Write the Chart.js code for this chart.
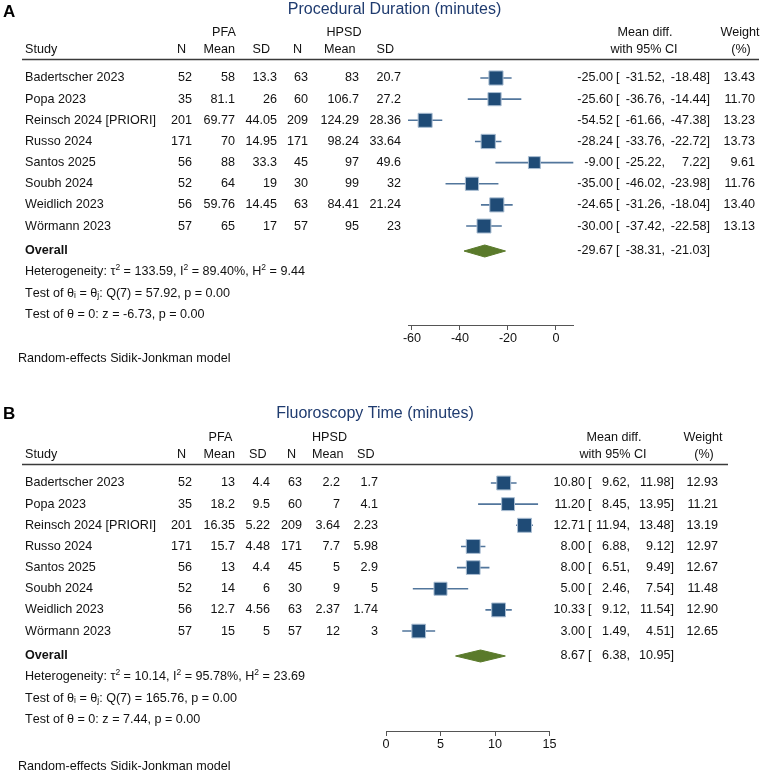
<!DOCTYPE html>
<html><head><meta charset="utf-8">
<script src="https://cdn.jsdelivr.net/npm/chart.js@4.4.1/dist/chart.umd.min.js"></script>
<style>
html,body{margin:0;padding:0;background:#fff;}
#wrap{position:relative;width:767px;height:771px;overflow:hidden;background:#fff;}
canvas{position:absolute;left:0;}
</style></head><body>
<div id="wrap">
<canvas id="cA" width="767" height="405" style="top:0px"></canvas>
<canvas id="cB" width="767" height="366" style="top:405px"></canvas>
</div>
<script>
// ---------- shared ----------
const studies = ['Badertscher 2023','Popa 2023','Reinsch 2024 [PRIORI]','Russo 2024','Santos 2025','Soubh 2024','Weidlich 2023','Wörmann 2023'];
const modelNote = 'Random-effects Sidik-Jonkman model';

// ---------- Panel A: Procedural Duration ----------
const durTitle = 'Procedural Duration (minutes)';
const durPfaN = [52,35,201,171,56,52,56,57];
const durPfaMean = [58,81.1,69.77,70,88,64,59.76,65];
const durPfaSD = [13.3,26,44.05,14.95,33.3,19,14.45,17];
const durHpsdN = [63,60,209,171,45,30,63,57];
const durHpsdMean = [83,106.7,124.29,98.24,97,99,84.41,95];
const durHpsdSD = [20.7,27.2,28.36,33.64,49.6,32,21.24,23];
const durMD = [-25.00,-25.60,-54.52,-28.24,-9.00,-35.00,-24.65,-30.00];
const durLo = [-31.52,-36.76,-61.66,-33.76,-25.22,-46.02,-31.26,-37.42];
const durHi = [-18.48,-14.44,-47.38,-22.72,7.22,-23.98,-18.04,-22.58];
const durWeight = [13.43,11.70,13.23,13.73,9.61,11.76,13.40,13.13];
const durOverall = [-29.67,-38.31,-21.03];
const durTicks = [-60,-40,-20,0];
const durStats = ['Heterogeneity: τ^2 = 133.59, I^2 = 89.40%, H^2 = 9.44',
                  'Test of θ_i = θ_j: Q(7) = 57.92, p = 0.00',
                  'Test of θ = 0: z = -6.73, p = 0.00'];

// ---------- Panel B: Fluoroscopy Time ----------
const fluTitle = 'Fluoroscopy Time (minutes)';
const fluPfaN = [52,35,201,171,56,52,56,57];
const fluPfaMean = [13,18.2,16.35,15.7,13,14,12.7,15];
const fluPfaSD = [4.4,9.5,5.22,4.48,4.4,6,4.56,5];
const fluHpsdN = [63,60,209,171,45,30,63,57];
const fluHpsdMean = [2.2,7,3.64,7.7,5,9,2.37,12];
const fluHpsdSD = [1.7,4.1,2.23,5.98,2.9,5,1.74,3];
const fluMD = [10.80,11.20,12.71,8.00,8.00,5.00,10.33,3.00];
const fluLo = [9.62,8.45,11.94,6.88,6.51,2.46,9.12,1.49];
const fluHi = [11.98,13.95,13.48,9.12,9.49,7.54,11.54,4.51];
const fluWeight = [12.93,11.21,13.19,12.97,12.67,11.48,12.90,12.65];
const fluOverall = [8.67,6.38,10.95];
const fluTicks = [0,5,10,15];
const fluStats = ['Heterogeneity: τ^2 = 10.14, I^2 = 95.78%, H^2 = 23.69',
                  'Test of θ_i = θ_j: Q(7) = 165.76, p = 0.00',
                  'Test of θ = 0: z = 7.44, p = 0.00'];

// ---------- rendering ----------
const FONT = "'Liberation Sans', Arial, Helvetica, sans-serif";
const FS = 12.6;
Chart.defaults.font.family = FONT;
const TXT = '#111';

function drawRich(ctx, s, x, y) {
  let cx = x;
  let i = 0;
  while (i < s.length) {
    let ch = s[i], mode = null;
    if ((ch === '^' || ch === '_') && i + 1 < s.length) { mode = ch; ch = s[i+1]; i += 2; }
    else { i += 1; }
    if (mode) {
      ctx.font = '8.5px ' + FONT;
      const dy = mode === '^' ? -4.5 : 3;
      ctx.fillText(ch, cx, y + dy);
      cx += ctx.measureText(ch).width;
    } else {
      ctx.font = FS + 'px ' + FONT;
      ctx.fillText(ch, cx, y);
      cx += ctx.measureText(ch).width;
    }
  }
}

function drawTable(chart, P, L, oy) {
  const ctx = chart.ctx;
  const ys = chart.scales.y;
  const Y = v => ys.getPixelForValue(v);
  const normal = FS + 'px ' + FONT;
  const bold = 'bold ' + FS + 'px ' + FONT;
  ctx.save();
  ctx.textBaseline = 'middle';
  const put = (s, x, y, align, font, color) => {
    ctx.font = font || normal; ctx.fillStyle = color || TXT; ctx.textAlign = align || 'left';
    ctx.fillText(s, x, y);
  };
  // letter + title
  put(P.letter, L.letterX, L.letterY, 'left', 'bold 17px ' + FONT, '#000');
  put(P.title, L.titleX, L.titleY, 'center', '16px ' + FONT, '#1f3b6f');

  const r0 = Y(0);
  const gY = r0 - 45.5, hY = r0 - 28.5, lineY = Math.round(r0 - 19) + 0.5;

  // column widths
  ctx.font = normal;
  const cols = [P.pfaN, P.pfaMean, P.pfaSD, P.hpsdN, P.hpsdMean, P.hpsdSD];
  const heads = ['N','Mean','SD','N','Mean','SD'];
  const lefts = cols.map((c, k) => L.cols[k] - Math.max(...c.map(v => ctx.measureText(String(v)).width)));
  cols.forEach((c, k) => put(heads[k], (lefts[k] + L.cols[k]) / 2, hY, 'center'));
  put('PFA', (lefts[0] + L.cols[2]) / 2, gY, 'center');
  put('HPSD', (lefts[3] + L.cols[5]) / 2, gY, 'center');
  put('Study', 25, hY);
  put('Mean diff.', L.ciHead, gY, 'center');
  put('with 95% CI', L.ciHead - 1, hY, 'center');
  put('Weight', L.wHead, gY, 'center');
  put('(%)', L.wHead + 1, hY, 'center');

  ctx.strokeStyle = '#3a3a3a'; ctx.lineWidth = 1.3;
  ctx.beginPath(); ctx.moveTo(22, lineY); ctx.lineTo(L.lineEnd, lineY); ctx.stroke();

  const ciText = (m, lo, hi, y) => {
    put(m.toFixed(2), L.est, y, 'right');
    put('[', L.brk, y, 'left');
    put(lo.toFixed(2) + ',', L.lo, y, 'right');
    put(hi.toFixed(2) + ']', L.hi, y, 'right');
  };

  P.studies.forEach((s, i) => {
    const y = Y(i);
    put(s, 25, y);
    cols.forEach((c, k) => put(String(c[i]), L.cols[k], y, 'right'));
    ciText(P.md[i], P.lo[i], P.hi[i], y);
    put(P.weight[i].toFixed(2), L.w, y, 'right');
  });

  const yo = Y(oy);
  put('Overall', 25, yo, 'left', bold);
  ciText(P.overall[0], P.overall[1], P.overall[2], yo);

  ctx.fillStyle = TXT; ctx.textAlign = 'left';
  P.stats.forEach((s, k) => drawRich(ctx, s, 25, Y(P.studies.length + 1.17 + k)));

  put(modelNote, 18, L.note);
  ctx.restore();
}

function makePanel(id, P, L) {
  const cv = document.getElementById(id);
  const W = cv.width, H = cv.height;
  const n = P.studies.length;
  const xmin = Math.min(...P.lo, ...P.ticks);
  const xmax = Math.max(...P.hi, ...P.ticks);
  const yTop = (L.top - L.row0) / L.rowH;
  const yBot = (L.axis - L.row0) / L.rowH;
  const oy = n + 0.18;
  const dh = 6 / L.rowH;
  const ciData = [];
  P.lo.forEach((l, i) => { ciData.push({x: l, y: i}, {x: P.hi[i], y: i}, {x: null, y: null}); });
  const sqData = P.md.map((m, i) => ({x: m, y: i}));
  const sqR = P.weight.map(w => 3.85 * Math.sqrt(w) / (2 * Math.SQRT1_2));
  const [om, ol, oh] = P.overall;
  const GREEN = '#5a7a2b';
  const datasets = [
    {data: sqData, showLine: false, pointStyle: 'rect', pointRadius: sqR,
     backgroundColor: '#1f4b76', pointBackgroundColor: '#1f4b76',
     pointBorderColor: '#a9bdd2', pointBorderWidth: 1, order: 1, clip: false},
    {data: ciData, borderColor: '#52769c', borderWidth: 1.6, pointRadius: 0, spanGaps: false,
     fill: false, order: 3, clip: false},
    {data: [{x: ol, y: oy}, {x: om, y: oy - dh}, {x: oh, y: oy}], borderColor: GREEN, borderWidth: 1,
     pointRadius: 0, fill: false, order: 2},
    {data: [{x: ol, y: oy}, {x: om, y: oy + dh}, {x: oh, y: oy}], borderColor: GREEN, borderWidth: 1,
     pointRadius: 0, fill: '-1', backgroundColor: GREEN, order: 2}
  ];
  return new Chart(cv, {
    type: 'line',
    data: {datasets},
    options: {
      responsive: false, animation: false, devicePixelRatio: 1, events: [],
      layout: {padding: {left: L.left, right: W - L.right, top: L.top, bottom: H - L.axis - 24}},
      plugins: {legend: {display: false}, tooltip: {enabled: false}, title: {display: false}},
      elements: {line: {tension: 0}},
      scales: {
        x: {type: 'linear', min: xmin, max: xmax, position: 'bottom',
            afterBuildTicks: s => { s.ticks = P.ticks.map(v => ({value: v})); },
            afterFit: s => { s.height = 24; },
            grid: {display: true, drawOnChartArea: false, drawTicks: true, tickLength: 5, color: '#555', lineWidth: 1},
            border: {display: true, color: '#555', width: 1},
            ticks: {font: {size: FS}, color: TXT, padding: 1, maxRotation: 0, autoSkip: false}},
        y: {type: 'linear', display: false, reverse: true, min: yTop, max: yBot}
      }
    },
    plugins: [{id: 'tbl' + id, afterDraw(chart) { drawTable(chart, P, L, oy); }}]
  });
}

makePanel('cA', {
  letter: 'A', title: durTitle, studies,
  pfaN: durPfaN, pfaMean: durPfaMean, pfaSD: durPfaSD,
  hpsdN: durHpsdN, hpsdMean: durHpsdMean, hpsdSD: durHpsdSD,
  md: durMD, lo: durLo, hi: durHi, weight: durWeight, overall: durOverall,
  ticks: durTicks, stats: durStats
}, {
  left: 408, right: 573.3, top: 62, axis: 325, row0: 78, rowH: 21.15,
  letterX: 3, letterY: 12, titleX: 394.5, titleY: 10,
  cols: [192, 235, 277, 308, 359, 401],
  est: 613, brk: 616, lo: 665, hi: 710, w: 755, ciHead: 645, wHead: 740, lineEnd: 759, note: 359
});

makePanel('cB', {
  letter: 'B', title: fluTitle, studies,
  pfaN: fluPfaN, pfaMean: fluPfaMean, pfaSD: fluPfaSD,
  hpsdN: fluHpsdN, hpsdMean: fluHpsdMean, hpsdSD: fluHpsdSD,
  md: fluMD, lo: fluLo, hi: fluHi, weight: fluWeight, overall: fluOverall,
  ticks: fluTicks, stats: fluStats
}, {
  left: 386, right: 549.5, top: 62, axis: 326, row0: 78, rowH: 21.15,
  letterX: 3, letterY: 9, titleX: 375, titleY: 9,
  cols: [192, 235, 270, 302, 340, 378],
  est: 585, brk: 588, lo: 630, hi: 674, w: 718, ciHead: 614, wHead: 703, lineEnd: 728, note: 362
});
</script>
</body></html>
